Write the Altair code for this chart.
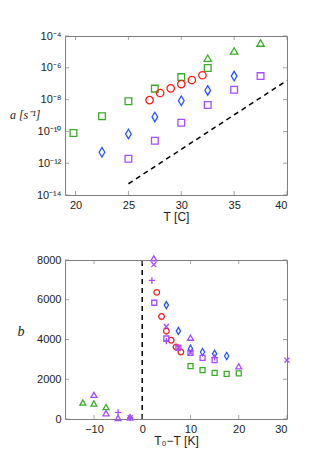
import altair as alt
import pandas as pd

GREEN = "#3aac2a"
RED = "#ff1a1a"
BLUE = "#2b52ff"
PURPLE = "#a64dff"
FRAME = "#7f7f7f"

DIAMOND = "M0,-1L0.6,0L0,1L-0.6,0Z"
PLUS = "M-1,0L1,0M0,-1L0,1"
CROSS = "M-0.8,-0.8L0.8,0.8M-0.8,0.8L0.8,-0.8"

# ---------------- top panel data (T [C], a [1/s]) ----------------
top_gsq_T = [19.8, 22.5, 25, 27.5, 30, 32.5]
top_gsq_a = [7.9e-11, 8.9e-10, 7.8e-9, 4.9e-8, 2.6e-7, 9.8e-7]
top_gtri_T = [32.5, 35, 37.5]
top_gtri_a = [4.0e-6, 1.15e-5, 3.6e-5]
top_red_T = [27, 28, 29, 30, 31, 32]
top_red_a = [9.3e-9, 2.6e-8, 5.1e-8, 9.5e-8, 1.7e-7, 3.4e-7]
top_blue_T = [22.5, 25, 27.5, 30, 32.5, 35]
top_blue_a = [4.9e-12, 6.9e-11, 8.1e-10, 8.5e-9, 3.8e-8, 3.0e-7]
top_psq_T = [25, 27.5, 30, 32.5, 35, 37.5]
top_psq_a = [1.9e-12, 2.6e-11, 3.5e-10, 4.6e-9, 4.2e-8, 3.0e-7]
top_dash_T = [25, 40]
top_dash_a = [5.1e-14, 1.6e-7]

top_xticks = [20, 25, 30, 35, 40]
top_yticks = [1e-14, 1e-12, 1e-10, 1e-8, 1e-6, 1e-4]
top_ylabels = {-14: "10⁻¹⁴", -12: "10⁻¹²", -10: "10⁻¹⁰", -8: "10⁻⁸", -6: "10⁻⁶", -4: "10⁻⁴"}

# ---------------- bottom panel data (T0-T [K], b) ----------------
bot_gtri_x = [-12.3, -10, -7.5]
bot_gtri_y = [830, 780, 600]
bot_gsq_x = [10, 12.5, 15, 17.5, 20]
bot_gsq_y = [2660, 2455, 2320, 2270, 2300]
bot_red_x = [3, 4, 5, 6, 7, 8]
bot_red_y = [6370, 5160, 4420, 3960, 3620, 3370]
bot_blue_x = [5, 7.5, 10, 12.5, 15, 17.5]
bot_blue_y = [5730, 4430, 3540, 3370, 3280, 3170]
bot_psq_x = [2.5, 5, 7.5, 10, 12.5, 15]
bot_psq_y = [5850, 4050, 3590, 3330, 3080, 2960]
bot_ptri_x = [-10, -7.5, -5, -2.5, 2.4, 10, 20]
bot_ptri_y = [1220, 290, 50, 80, 8080, 4090, 2650]
bot_pplus_x = [-5, -2.5, 2, 5, 15]
bot_pplus_y = [330, 70, 6970, 3920, 3100]
bot_pcross_x = [-2.5, 2.4, 5, 7.5, 10, 30]
bot_pcross_y = [60, 7770, 4650, 3580, 3330, 2960]
bot_vline_x = [0, 0]
bot_vline_y = [0, 8000]

bot_xticks = [-10, 0, 10, 20, 30]
bot_yticks = [0, 2000, 4000, 6000, 8000]

W, H = 222, 159

LABEL = dict(labelFont="Liberation Sans", labelFontSize=11, labelColor="#222222")


def df(xs, ys):
    return pd.DataFrame({"x": xs, "y": ys})


def ylog_expr():
    e = "'10'"
    for k, v in top_ylabels.items():
        e = f"(round(log(datum.value)/LN10) == {k} ? '{v}' : {e})"
    return e


def make_panel(series, lines, xdom, ydom, ytype, xticks, yticks, xtitle, ytitle,
               ylabelexpr, ytitleX, ytitleY, xtitlepad, ytitlesize):
    xs = alt.Scale(domain=xdom, nice=False, zero=False)
    ys = alt.Scale(domain=ydom, nice=False, zero=False, type=ytype)
    xax = alt.Axis(values=xticks, ticks=False, domain=False, grid=False,
                   labelPadding=4, title=xtitle, titleFont="Liberation Sans",
                   titleFontSize=12, titleFontWeight="normal", titleColor="#222222",
                   titlePadding=xtitlepad, format="d", **LABEL)
    yargs = dict(values=yticks, ticks=False, domain=False, grid=False,
                 labelPadding=4, title=ytitle, titleFont="Liberation Serif",
                 titleFontSize=ytitlesize, titleFontStyle="italic", titleFontWeight="normal",
                 titleColor="#222222", titleAngle=0, titleX=ytitleX, titleY=ytitleY,
                 titleAlign="right", titleBaseline="middle", **LABEL)
    if ylabelexpr:
        yargs["labelExpr"] = ylabelexpr
    else:
        yargs["format"] = "d"
    yax = alt.Axis(**yargs)

    X = lambda: alt.X("x:Q", scale=xs, axis=xax, title=xtitle)
    Y = lambda: alt.Y("y:Q", scale=ys, axis=yax, title=ytitle)

    layers = []
    for (xv, yv, shape, color, size) in series:
        layers.append(
            alt.Chart(df(xv, yv)).mark_point(shape=shape, filled=False, color=color,
                                            size=size, strokeWidth=1.3, opacity=1)
            .encode(x=X(), y=Y())
        )
    for (xv, yv) in lines:
        layers.append(
            alt.Chart(df(xv, yv)).mark_line(color="black", strokeWidth=1.5,
                                           strokeDash=[5, 4])
            .encode(x=X(), y=Y())
        )
    # inward frame ticks
    tx = pd.DataFrame({"x": xticks})
    ty = pd.DataFrame({"y": yticks})
    for yp in (2, H - 2):
        layers.append(alt.Chart(tx).mark_tick(orient="vertical", size=4, thickness=1,
                                              color=FRAME)
                      .encode(x=X(), y=alt.value(yp)))
    for xp in (2, W - 2):
        layers.append(alt.Chart(ty).mark_tick(orient="horizontal", size=4, thickness=1,
                                              color=FRAME)
                      .encode(y=Y(), x=alt.value(xp)))
    return alt.layer(*layers).properties(width=W, height=H)


top = make_panel(
    series=[
        (top_gsq_T, top_gsq_a, "square", GREEN, 45),
        (top_gtri_T, top_gtri_a, "triangle-up", GREEN, 55),
        (top_red_T, top_red_a, "circle", RED, 55),
        (top_blue_T, top_blue_a, DIAMOND, BLUE, 90),
        (top_psq_T, top_psq_a, "square", PURPLE, 45),
    ],
    lines=[(top_dash_T, top_dash_a)],
    xdom=[19, 40], ydom=[1e-14, 1e-4], ytype="log",
    xticks=top_xticks, yticks=top_yticks,
    xtitle="T [C]", ytitle="a [s⁻¹]", ylabelexpr=ylog_expr(),
    ytitleX=-25, ytitleY=78, xtitlepad=1, ytitlesize=12,
)

bottom = make_panel(
    series=[
        (bot_gtri_x, bot_gtri_y, "triangle-up", GREEN, 35),
        (bot_gsq_x, bot_gsq_y, "square", GREEN, 25),
        (bot_red_x, bot_red_y, "circle", RED, 32),
        (bot_blue_x, bot_blue_y, DIAMOND, BLUE, 50),
        (bot_psq_x, bot_psq_y, "square", PURPLE, 25),
        (bot_ptri_x, bot_ptri_y, "triangle-up", PURPLE, 35),
        (bot_pplus_x, bot_pplus_y, PLUS, PURPLE, 40),
        (bot_pcross_x, bot_pcross_y, CROSS, PURPLE, 40),
    ],
    lines=[(bot_vline_x, bot_vline_y)],
    xdom=[-16, 30], ydom=[0, 8000], ytype="linear",
    xticks=bot_xticks, yticks=bot_yticks,
    xtitle="T₀−T [K]", ytitle="b", ylabelexpr=None,
    ytitleX=-41, ytitleY=71, xtitlepad=1, ytitlesize=14,
)

chart = alt.vconcat(top, bottom, spacing=29).properties(
    padding={"left": 0, "top": 21, "right": 5, "bottom": 5}
).configure_view(stroke=FRAME, strokeWidth=1)

chart.save("out.html", embed_options={"renderer": "svg", "actions": False})
